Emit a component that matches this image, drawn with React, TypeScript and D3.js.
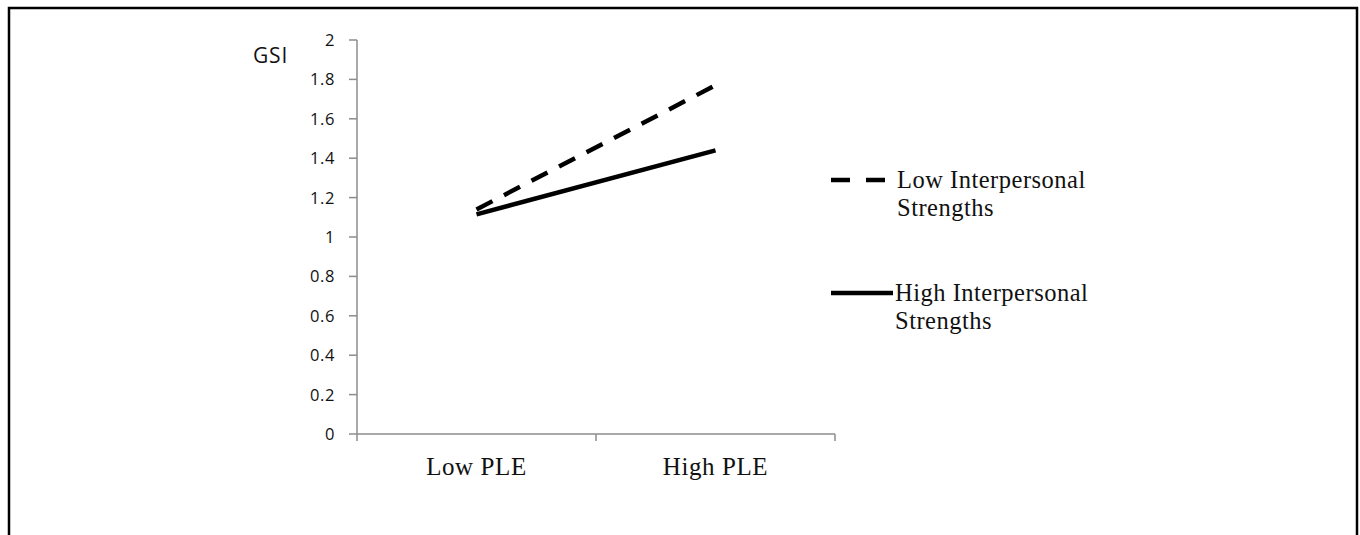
import React from "react";
import * as d3 from "d3";

const categories = ["Low PLE", "High PLE"];
const lowStrengths = [1.14, 1.77];
const highStrengths = [1.115, 1.44];
const yTicks = [0, 0.2, 0.4, 0.6, 0.8, 1, 1.2, 1.4, 1.6, 1.8, 2];
const seriesNames = ["Low Interpersonal|Strengths", "High Interpersonal|Strengths"];

export default function App() {
  const W = 1360, H = 535;
  const x0 = 357, x1 = 835, yTop = 40, yBot = 434;
  const x = d3.scaleBand<string>().domain(categories).range([x0, x1]);
  const y = d3.scaleLinear().domain([0, 2]).range([yBot, yTop]);
  const line = d3
    .line<number>()
    .x((_, i) => (x(categories[i]) as number) + x.bandwidth() / 2)
    .y((d) => y(d));
  const axisColor = "#8c8c8c";
  const sans = "'Open Sans', 'DejaVu Sans', sans-serif";
  const serif = "'Liberation Serif', 'DejaVu Serif', serif";
  const series = [
    { values: lowStrengths, dash: "18,13", name: seriesNames[0] },
    { values: highStrengths, dash: "none", name: seriesNames[1] },
  ];
  const legendY = [180, 293];
  return (
    <svg width={W} height={H} style={{ position: "absolute", left: 0, top: 0, background: "#fff" }}>
      <rect x={0} y={0} width={W} height={H} fill="#fff" />
      <rect x={9} y={8} width={1348} height={560} fill="none" stroke="#000" strokeWidth={2.5} />
      {/* y axis */}
      <line x1={x0} x2={x0} y1={yTop} y2={yBot} stroke={axisColor} strokeWidth={1.5} />
      {yTicks.map((t) => (
        <g key={t}>
          <line x1={x0 - 8} x2={x0} y1={y(t)} y2={y(t)} stroke={axisColor} strokeWidth={1.5} />
          <text x={x0 - 22} y={y(t)} dy="0.36em" textAnchor="end" fontFamily={sans} fontSize={16.5} letterSpacing={0.6} fill="#111">
            {String(t)}
          </text>
        </g>
      ))}
      {/* x axis */}
      <line x1={x0} x2={x1} y1={yBot} y2={yBot} stroke={axisColor} strokeWidth={1.5} />
      {[x0, x0 + x.bandwidth(), x1].map((px, i) => (
        <line key={i} x1={px} x2={px} y1={yBot} y2={yBot + 7} stroke={axisColor} strokeWidth={1.5} />
      ))}
      {categories.map((c) => (
        <text
          key={c}
          x={(x(c) as number) + x.bandwidth() / 2}
          y={475}
          textAnchor="middle"
          fontFamily={serif}
          fontSize={25}
          letterSpacing={0.6}
          fill="#111"
        >
          {c}
        </text>
      ))}
      <text x={253} y={63} fontFamily={sans} fontSize={21} letterSpacing={0.8} fill="#111">
        GSI
      </text>
      {series.map((s, i) => (
        <path
          key={i}
          d={line(s.values) as string}
          fill="none"
          stroke="#000"
          strokeWidth={4.5}
          strokeDasharray={s.dash}
        />
      ))}
      {series.map((s, i) => {
        const [l1, l2] = s.name.split("|");
        const ly = legendY[i];
        return (
          <g key={"lg" + i}>
            <line
              x1={831}
              x2={i === 0 ? 885 : 893}
              y1={ly}
              y2={ly}
              stroke="#000"
              strokeWidth={4.5}
              strokeDasharray={i === 0 ? "19,16" : "none"}
            />
            <text x={i === 0 ? 897 : 895} y={ly + 8} fontFamily={serif} fontSize={24.5} letterSpacing={0.5} fill="#111">
              {l1}
            </text>
            <text x={i === 0 ? 897 : 895} y={ly + 36} fontFamily={serif} fontSize={24.5} letterSpacing={0.5} fill="#111">
              {l2}
            </text>
          </g>
        );
      })}
    </svg>
  );
}
